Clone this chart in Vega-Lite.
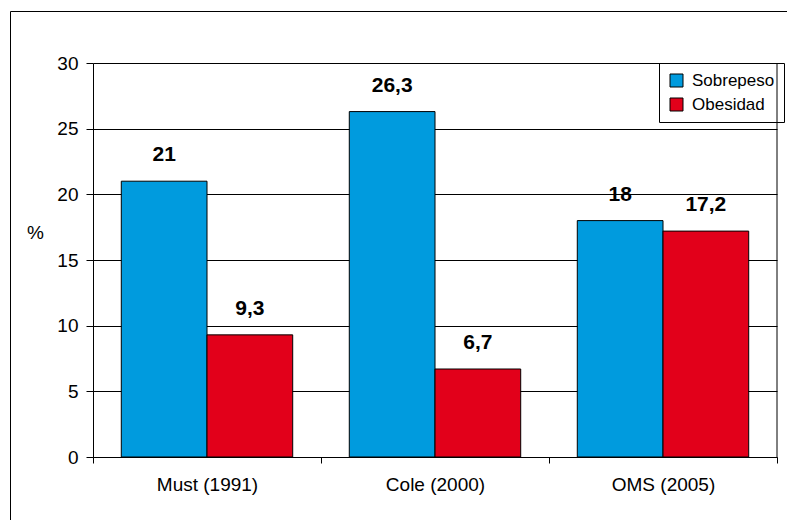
{
  "$schema": "https://vega.github.io/schema/vega-lite/v6.json",
  "width": 790,
  "height": 520,
  "autosize": {"type": "none"},
  "padding": {"left": 10, "top": 11, "right": 0, "bottom": 0},
  "background": "white",
  "config": {
    "view": {"stroke": "black", "strokeWidth": 1},
    "font": "Liberation Sans, Arial, sans-serif",
    "locale": {"number": {"decimal": ",", "thousands": ".", "grouping": [3], "currency": ["", " €"]}},
    "axis": {"domainColor": "black", "tickColor": "black", "labelColor": "black", "titleColor": "black"}
  },
  "data": {
    "values": [
      {"study": "Must (1991)", "type": "Sobrepeso", "value": 21},
      {"study": "Must (1991)", "type": "Obesidad", "value": 9.3},
      {"study": "Cole (2000)", "type": "Sobrepeso", "value": 26.3},
      {"study": "Cole (2000)", "type": "Obesidad", "value": 6.7},
      {"study": "OMS (2005)", "type": "Sobrepeso", "value": 18},
      {"study": "OMS (2005)", "type": "Obesidad", "value": 17.2}
    ]
  },
  "layer": [
    {
      "mark": {"type": "bar", "stroke": "black", "strokeWidth": 1},
      "encoding": {
        "x": {
          "field": "study", "type": "nominal",
          "sort": ["Must (1991)", "Cole (2000)", "OMS (2005)"],
          "scale": {"range": [83, 767], "paddingInner": 0, "paddingOuter": 0},
          "axis": {"title": null, "offset": -74, "tickBand": "extent", "tickSize": 6, "labelPadding": 12, "labelFontSize": 19, "labelAngle": 0, "grid": false}
        },
        "xOffset": {"field": "type", "sort": ["Sobrepeso", "Obesidad"], "scale": {"paddingInner": 0, "paddingOuter": 0.33}},
        "y": {
          "field": "value", "type": "quantitative",
          "scale": {"domain": [0, 30], "range": [446, 52], "nice": false},
          "axis": {"values": [0, 5, 10, 15, 20, 25, 30], "offset": -83, "tickSize": 7, "labelPadding": 8, "labelFontSize": 19, "grid": true, "gridColor": "black", "gridWidth": 1, "title": "%", "titleAngle": 0, "titleX": -58, "titleY": 221, "titleFontSize": 19, "titleFontWeight": "normal", "titleAlign": "center", "titleBaseline": "middle"}
        },
        "color": {
          "field": "type", "type": "nominal",
          "scale": {"domain": ["Sobrepeso", "Obesidad"], "range": ["#009BDE", "#E2001A"]},
          "legend": {"orient": "none", "legendX": 649, "legendY": 52, "title": null, "strokeColor": "black", "padding": 9, "symbolType": "square", "symbolSize": 169, "symbolStrokeColor": "black", "symbolStrokeWidth": 1, "symbolOpacity": 1, "labelFontSize": 17, "labelOffset": 7, "rowPadding": 6, "labelColor": "black"}
        }
      }
    },
    {
      "mark": {"type": "text", "dy": -20, "baseline": "alphabetic", "align": "center", "fontWeight": "bold", "fontSize": 21, "color": "black"},
      "encoding": {
        "x": {"field": "study", "type": "nominal", "sort": ["Must (1991)", "Cole (2000)", "OMS (2005)"]},
        "xOffset": {"field": "type", "sort": ["Sobrepeso", "Obesidad"]},
        "y": {"field": "value", "type": "quantitative"},
        "text": {"field": "value", "type": "quantitative", "format": "~g"}
      }
    },
    {
      "transform": [{"filter": "datum.study == 'OMS (2005)' && datum.type == 'Sobrepeso'"}],
      "mark": {"type": "rule", "color": "black", "strokeWidth": 1},
      "encoding": {
        "x": {"field": "study", "type": "nominal", "sort": ["Must (1991)", "Cole (2000)", "OMS (2005)"], "bandPosition": 1},
        "y": {"datum": 0, "type": "quantitative"},
        "y2": {"datum": 30}
      }
    }
  ]
}
